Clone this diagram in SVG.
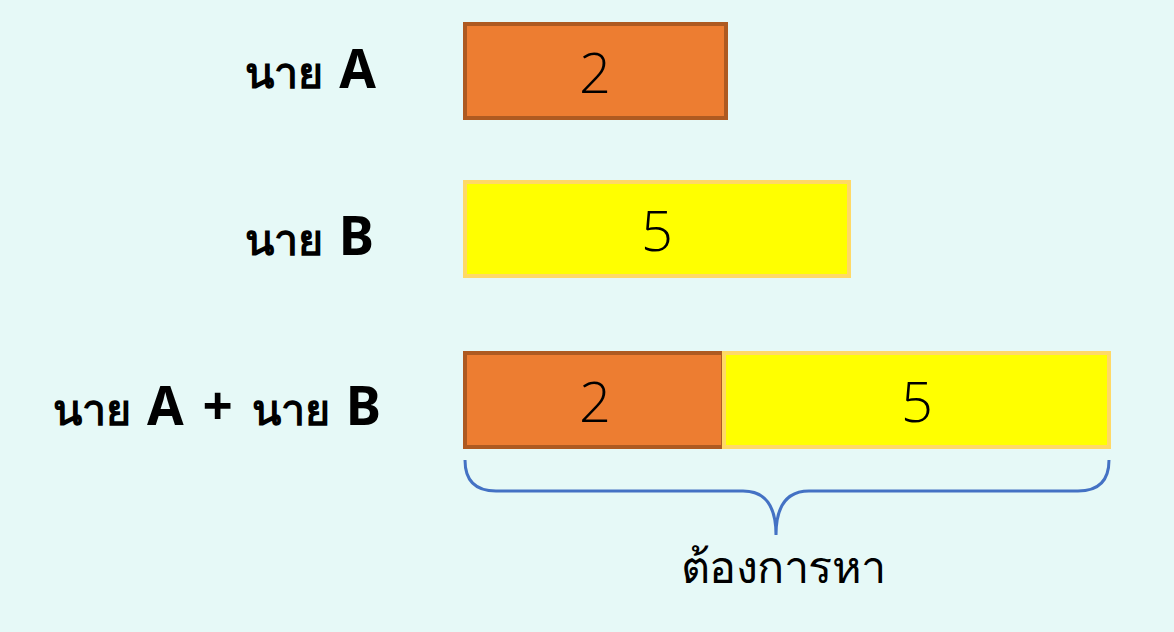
<svg xmlns="http://www.w3.org/2000/svg" width="1174" height="632" viewBox="0 0 1174 632">
<style>
.lbl{font-family:"Noto Sans","DejaVu Sans",sans-serif;font-weight:bold;font-size:43px;fill:#000;text-anchor:end;word-spacing:5px}
.lat{font-size:53px}
.num{font-family:"Open Sans","Liberation Sans",sans-serif;font-weight:300;font-size:56px;fill:#000;text-anchor:middle}
.org{fill:#ED7D31;stroke:#AE5A21;stroke-width:4}
.yel{fill:#FFFF00;stroke:#FFD966;stroke-width:4}
.cap{font-family:"Noto Sans","DejaVu Sans",sans-serif;font-weight:500;font-size:45px;fill:#000;text-anchor:middle;letter-spacing:-0.5px}
</style>
<rect width="1174" height="632" fill="#E6F9F7"/>
<g id="label-a"><text class="lbl" x="376" y="88">นาย <tspan class="lat">A</tspan></text></g>
<g id="label-b"><text class="lbl" x="374" y="255">นาย <tspan class="lat">B</tspan></text></g>
<g id="label-ab"><text class="lbl" x="381" y="425">นาย <tspan class="lat">A + </tspan>นาย <tspan class="lat">B</tspan></text></g>
<g id="box-a"><rect class="org" x="465" y="24" width="261" height="94"/><text class="num" x="595" y="93">2</text></g>
<g id="box-b"><rect class="yel" x="465" y="182" width="384" height="94"/><text class="num" x="657" y="251">5</text></g>
<g id="box-ab-a"><rect class="org" x="465" y="353" width="258" height="94"/><text class="num" x="595" y="422">2</text></g>
<g id="box-ab-b"><rect class="yel" x="724" y="353" width="385" height="94"/><text class="num" x="917" y="422">5</text></g>
<g id="connectors"><path d="M465 460 Q465 491 496 491 L743 491 Q776 491 776 535 Q776 491 809 491 L1078 491 Q1109 491 1109 460" fill="none" stroke="#4472C4" stroke-width="3"/></g>
<g id="caption"><text class="cap" x="783" y="583">ต้องการหา</text></g>
</svg>
